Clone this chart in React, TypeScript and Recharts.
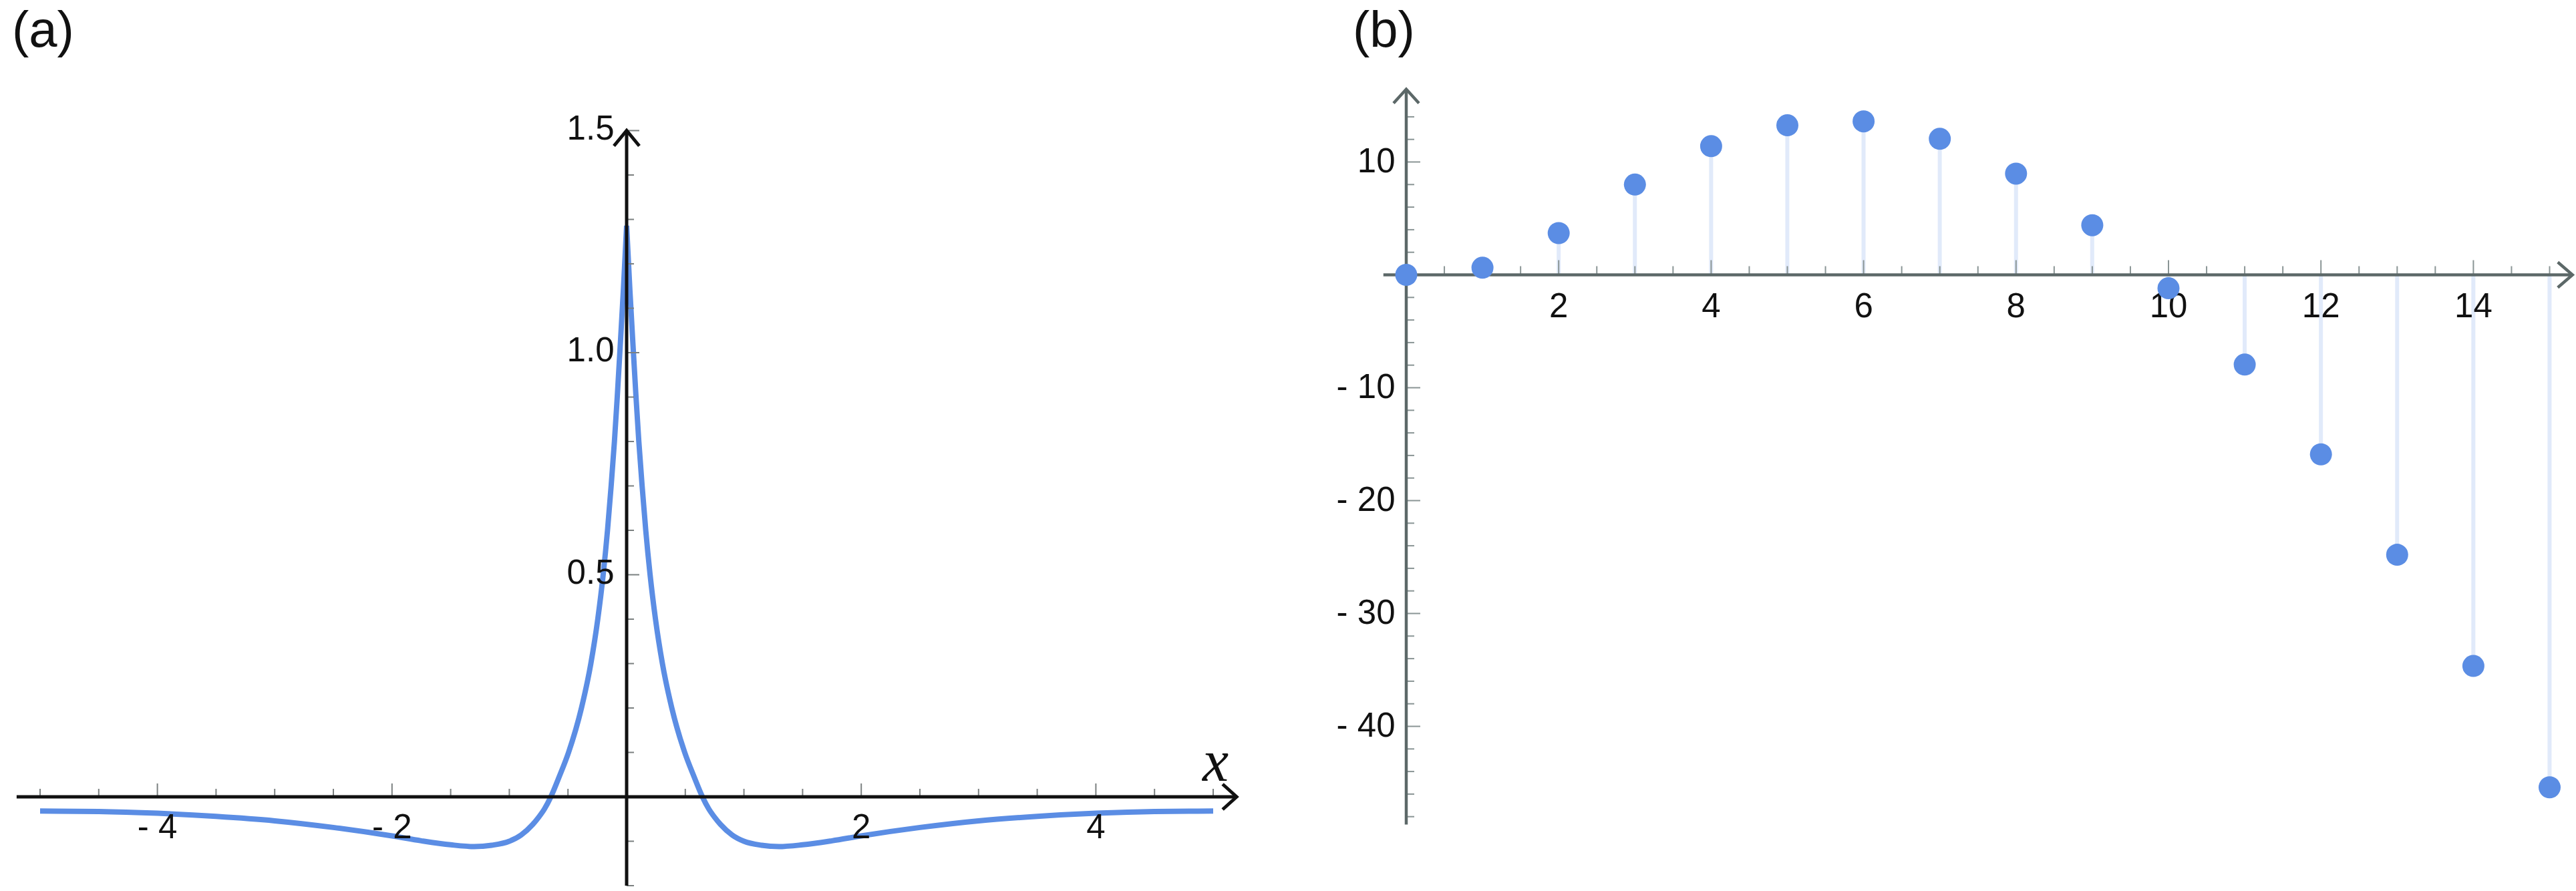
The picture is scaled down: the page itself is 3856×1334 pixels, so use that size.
import React from "react";
import {
  ComposedChart,
  LineChart,
  Line,
  Bar,
  Scatter,
  XAxis,
  YAxis,
  ReferenceLine,
} from "recharts";

const profileX = [
  -5, -4.5, -4, -3.5, -3, -2.5, -2, -1.75, -1.5, -1.3, -1.15, -1.0, -0.9, -0.8, -0.75, -0.7,
  -0.646, -0.575, -0.495, -0.385, -0.305, -0.246, -0.2, -0.163, -0.132, -0.104, -0.08, -0.058, -0.028,
  0,
  0.028, 0.058, 0.08, 0.104, 0.132, 0.163, 0.2, 0.246, 0.305, 0.385, 0.495, 0.575, 0.646,
  0.7, 0.75, 0.8, 0.9, 1.0, 1.15, 1.3, 1.5, 1.75, 2, 2.5, 3, 3.5, 4, 4.5, 5,
];
const profileY = [
  -0.032, -0.033, -0.037, -0.044, -0.054, -0.069, -0.088, -0.099, -0.108, -0.112, -0.109, -0.1, -0.086, -0.062, -0.046, -0.027,
  0, 0.045, 0.1, 0.2, 0.3, 0.4, 0.5, 0.6, 0.7, 0.8, 0.9, 1.0, 1.14,
  1.286,
  1.14, 1.0, 0.9, 0.8, 0.7, 0.6, 0.5, 0.4, 0.3, 0.2, 0.1, 0.045, 0,
  -0.027, -0.046, -0.062, -0.086, -0.1, -0.109, -0.112, -0.108, -0.099, -0.088, -0.069, -0.054, -0.044, -0.037, -0.033, -0.032,
];

// (b) discrete sequence
const seqN = [0, 1, 2, 3, 4, 5, 6, 7, 8, 9, 10, 11, 12, 13, 14, 15];
const seqV = [0, 0.63, 3.7, 8.0, 11.4, 13.25, 13.6, 12.05, 8.97, 4.4, -1.19, -7.95, -15.9, -24.8, -34.65, -45.4];

// tick labels
const aXTicks = [-4, -2, 2, 4];
const aXLabels = ["- 4", "- 2", "2", "4"];
const aYTicks = [0.5, 1.0, 1.5];
const aYLabels = ["0.5", "1.0", "1.5"];
const bXTicks = [2, 4, 6, 8, 10, 12, 14];
const bXLabels = ["2", "4", "6", "8", "10", "12", "14"];
const bYTicks = [-40, -30, -20, -10, 10];
const bYLabels = ["- 40", "- 30", "- 20", "- 10", "10"];

const W = 3856;
const H = 1334;
const BLUE = "#5b8de4";
const FONT = "'Liberation Sans', Arial, Helvetica, sans-serif";

type Frame = {
  left: number;
  width: number;
  ox: number;
  oy: number;
  kx: number;
  ky: number;
  xDom: [number, number];
  yDom: [number, number];
};

const frameA: Frame = { left: 0, width: 1900, ox: 938, oy: 1193, kx: 175.6, ky: 665, xDom: [-5.3, 5.3], yDom: [-0.21, 1.55] };
const frameB: Frame = { left: 1950, width: 1906, ox: 155, oy: 411.5, kx: 114.1, ky: 16.9, xDom: [-0.5, 15.34], yDom: [-49.5, 17.5] };

function marginsOf(f: Frame) {
  return {
    left: f.ox + f.xDom[0] * f.kx,
    right: f.width - (f.ox + f.xDom[1] * f.kx),
    top: f.oy - f.yDom[1] * f.ky,
    bottom: H - (f.oy - f.yDom[0] * f.ky),
  };
}

function steps(from: number, to: number, step: number) {
  const out: number[] = [];
  for (let v = from; v <= to + 1e-9; v += step) out.push(Number(v.toFixed(4)));
  return out;
}

type Pts = { x1: number; y1: number; x2: number; y2: number };

type AxisStyle = {
  axis: string;
  axisWidth: number;
  tick: string;
  arrowRight: [number, number];
  arrowUp: [number, number];
  xMajor: number;
  xMinor: number;
  yMajor: number;
  yMinor: number;
  xLabelDy: number;
  yLabelDx: number;
  yLabelDy: number;
};

const styleA: AxisStyle = {
  axis: "#111111",
  axisWidth: 5,
  tick: "#7b8080",
  arrowRight: [21, 19],
  arrowUp: [23, 19],
  xMajor: 20,
  xMinor: 12,
  yMajor: 19,
  yMinor: 11,
  xLabelDy: 62,
  yLabelDx: 18.5,
  yLabelDy: 13,
};

const styleB: AxisStyle = {
  axis: "#5c6868",
  axisWidth: 4.5,
  tick: "#8a9595",
  arrowRight: [22, 19],
  arrowUp: [21, 19],
  xMajor: 22,
  xMinor: 13,
  yMajor: 21,
  yMinor: 12,
  xLabelDy: 63.5,
  yLabelDx: 16.5,
  yLabelDy: 15.5,
};

const labelStyle = { fontFamily: FONT, fontSize: 51, fill: "#111111" };

function arrowShape(dir: "right" | "up", s: AxisStyle, name?: string) {
  return (p: Pts) => {
    let tx: number;
    let ty: number;
    let head: string;
    if (dir === "right") {
      tx = Math.max(p.x1, p.x2);
      ty = p.y1;
      const [a, b] = s.arrowRight;
      head = `M${tx - a},${ty - b} L${tx},${ty} L${tx - a},${ty + b}`;
    } else {
      tx = p.x1;
      ty = Math.min(p.y1, p.y2);
      const [a, b] = s.arrowUp;
      head = `M${tx - b},${ty + a} L${tx},${ty} L${tx + b},${ty + a}`;
    }
    return (
      <g>
        <line x1={p.x1} y1={p.y1} x2={p.x2} y2={p.y2} stroke={s.axis} strokeWidth={s.axisWidth} />
        <path d={head} fill="none" stroke={s.axis} strokeWidth={s.axisWidth} strokeLinejoin="miter" />
        {name ? (
          <text
            x={tx - 12}
            y={ty - 24}
            textAnchor="end"
            fontFamily="'Liberation Serif', 'Times New Roman', serif"
            fontStyle="italic"
            fontSize={88}
            fill="#111111"
          >
            {name}
          </text>
        ) : null}
      </g>
    );
  };
}

function xTickShape(s: AxisStyle, len: number, label?: string) {
  return (p: Pts) => (
    <g>
      <line x1={p.x1} y1={p.y1} x2={p.x1} y2={p.y1 - len} stroke={s.tick} strokeWidth={2} />
      {label ? (
        <text x={p.x1} y={p.y1 + s.xLabelDy} textAnchor="middle" {...labelStyle}>
          {label}
        </text>
      ) : null}
    </g>
  );
}

function yTickShape(s: AxisStyle, len: number, label?: string) {
  return (p: Pts) => (
    <g>
      <line x1={p.x1} y1={p.y1} x2={p.x1 + len} y2={p.y1} stroke={s.tick} strokeWidth={2} />
      {label ? (
        <text x={p.x1 - s.yLabelDx} y={p.y1 + s.yLabelDy} textAnchor="end" {...labelStyle}>
          {label}
        </text>
      ) : null}
    </g>
  );
}

// crossing axes drawn through the data scales, ticks on top of the series
function renderAxes(
  s: AxisStyle,
  xRange: [number, number],
  yRange: [number, number],
  xMinor: number[],
  yMinor: number[],
  xMajor: number[],
  xLabels: string[],
  yMajor: number[],
  yLabels: string[],
  name?: string
) {
  const els: React.ReactNode[] = [];
  xMinor
    .filter((v) => v !== 0 && !xMajor.includes(v))
    .forEach((v) =>
      els.push(
        <ReferenceLine key={`xm${v}`} segment={[{ x: v, y: 0 }, { x: v, y: yRange[1] }]} ifOverflow="visible" shape={xTickShape(s, s.xMinor)} />
      )
    );
  yMinor
    .filter((v) => v !== 0 && !yMajor.includes(v))
    .forEach((v) =>
      els.push(
        <ReferenceLine key={`ym${v}`} segment={[{ x: 0, y: v }, { x: xRange[1], y: v }]} ifOverflow="visible" shape={yTickShape(s, s.yMinor)} />
      )
    );
  xMajor.forEach((v, i) =>
    els.push(
      <ReferenceLine key={`xM${v}`} segment={[{ x: v, y: 0 }, { x: v, y: yRange[1] }]} ifOverflow="visible" shape={xTickShape(s, s.xMajor, xLabels[i])} />
    )
  );
  yMajor.forEach((v, i) =>
    els.push(
      <ReferenceLine key={`yM${v}`} segment={[{ x: 0, y: v }, { x: xRange[1], y: v }]} ifOverflow="visible" shape={yTickShape(s, s.yMajor, yLabels[i])} />
    )
  );
  els.push(
    <ReferenceLine key="xaxis" segment={[{ x: xRange[0], y: 0 }, { x: xRange[1], y: 0 }]} ifOverflow="visible" shape={arrowShape("right", s, name)} />
  );
  els.push(
    <ReferenceLine key="yaxis" segment={[{ x: 0, y: yRange[0] }, { x: 0, y: yRange[1] }]} ifOverflow="visible" shape={arrowShape("up", s)} />
  );
  return els;
}

function ProfilePanel() {
  // two branches meeting at the cusp, so the tip stays pointed
  const data = profileX.map((x, i) => ({
    x,
    left: x <= 0 ? profileY[i] : null,
    right: x >= 0 ? profileY[i] : null,
  }));
  return (
    <div style={{ position: "absolute", left: frameA.left, top: 0 }}>
      <LineChart width={frameA.width} height={H} data={data} margin={marginsOf(frameA)}>
        <XAxis type="number" dataKey="x" domain={frameA.xDom} hide allowDataOverflow />
        <YAxis type="number" domain={frameA.yDom} hide allowDataOverflow />
        {["left", "right"].map((k) => (
          <Line
            key={k}
            type="monotone"
            dataKey={k}
            stroke={BLUE}
            strokeWidth={8}
            strokeLinejoin="miter"
            dot={false}
            activeDot={false}
            isAnimationActive={false}
          />
        ))}
        {renderAxes(
          styleA,
          [-5.2, 5.2],
          [-0.2, 1.5],
          steps(-5, 5, 0.5),
          steps(-0.2, 1.5, 0.1),
          aXTicks,
          aXLabels,
          aYTicks,
          aYLabels,
          "x"
        )}
      </LineChart>
    </div>
  );
}

function SequencePanel() {
  const data = seqN.map((n, i) => ({ n, v: seqV[i] }));
  return (
    <div style={{ position: "absolute", left: frameB.left, top: 0 }}>
      <ComposedChart width={frameB.width} height={H} data={data} margin={marginsOf(frameB)}>
        <XAxis type="number" dataKey="n" domain={frameB.xDom} hide allowDataOverflow />
        <YAxis type="number" dataKey="v" domain={frameB.yDom} hide allowDataOverflow />
        <Bar dataKey="v" barSize={6} fill={BLUE} fillOpacity={0.18} isAnimationActive={false} />
        <Scatter
          dataKey="v"
          isAnimationActive={false}
          shape={(p: any) => <circle cx={p.cx} cy={p.cy} r={16.5} fill={BLUE} />}
        />
        {renderAxes(
          styleB,
          [-0.3, 15.3],
          [-48.7, 16.45],
          steps(0.5, 15, 0.5),
          steps(-48, 14, 2),
          bXTicks,
          bXLabels,
          bYTicks,
          bYLabels
        )}
      </ComposedChart>
    </div>
  );
}

export default function App() {
  return (
    <div
      style={{
        position: "absolute",
        left: 0,
        top: 0,
        width: W,
        height: H,
        background: "#ffffff",
        overflow: "hidden",
      }}
    >
      <svg width={W} height={H} style={{ position: "absolute", left: 0, top: 0 }}>
        <text x={18} y={70} fontFamily={FONT} fontSize={76} fill="#111111">
          (a)
        </text>
        <text x={2025} y={70} fontFamily={FONT} fontSize={76} fill="#111111">
          (b)
        </text>
      </svg>
      <ProfilePanel />
      <SequencePanel />
    </div>
  );
}
